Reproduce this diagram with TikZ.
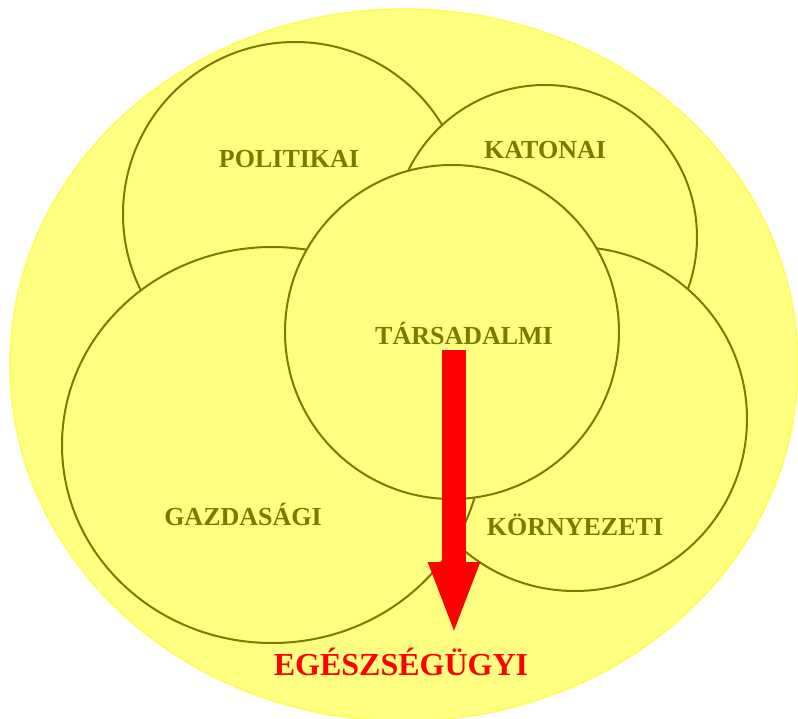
\documentclass[tikz,border=0pt]{standalone}
\usepackage{fontspec}
\setmainfont{Liberation Serif}
\usepackage{xcolor}
\usepackage{tikz}
\usetikzlibrary{arrows.meta,shapes.geometric}
\definecolor{softyellow}{RGB}{255,255,128}
\definecolor{rimyellow}{RGB}{255,252,90}
\definecolor{darkolive}{RGB}{122,122,0}
\definecolor{alertred}{RGB}{255,0,0}

\begin{document}
\begin{tikzpicture}[x=1pt, y=-1pt,
    ring/.style={draw=darkolive, fill=softyellow, line width=2pt, inner sep=0pt},
    lbl/.style={text=darkolive, anchor=base, inner sep=0pt, font=\fontsize{26}{30}\selectfont\bfseries}]
			\useasboundingbox (0,0) rectangle (798,718);
			\node[ellipse, draw=rimyellow, fill=softyellow, line width=1.5pt, minimum width=788pt, minimum height=712pt] (whole) at (404,365) {};
			
			\node[ring, circle, minimum size=344pt] (politikai) at (295,214) {};
			\node[ring, circle, minimum size=304pt] (katonai) at (545,237) {};
			\node[ring, circle, minimum size=344pt] (kornyezeti) at (575,419) {};
			\node[ring, ellipse, minimum width=420pt, minimum height=396pt] (gazdasagi) at (272,445) {};
			\node[ring, circle, minimum size=334pt] (tarsadalmi) at (452,332) {};
			
			\node[lbl] (politikaitxt) at (289,167) {POLITIKAI};
			\node[lbl] (katonaitxt) at (545,158) {KATONAI};
			\node[lbl] (tarsadalmitxt) at (464,344) {TÁRSADALMI};
			\node[lbl] (gazdasagitxt) at (243,525) {GAZDASÁGI};
			\node[lbl] (kornyezetitxt) at (575,535) {KÖRNYEZETI};
			\node[lbl, text=alertred, font=\fontsize{32}{36}\selectfont\bfseries] (egeszsegugyi) at (401,675) {EGÉSZSÉGÜGYI};
			
			\coordinate (arrtop) at (454,350);
			\coordinate (arrtip) at (454,636);
			\draw[alertred, line width=24pt, -{Triangle[width=46pt, length=74pt]}] (arrtop) -- (arrtip);
		\end{tikzpicture}
\end{document}
